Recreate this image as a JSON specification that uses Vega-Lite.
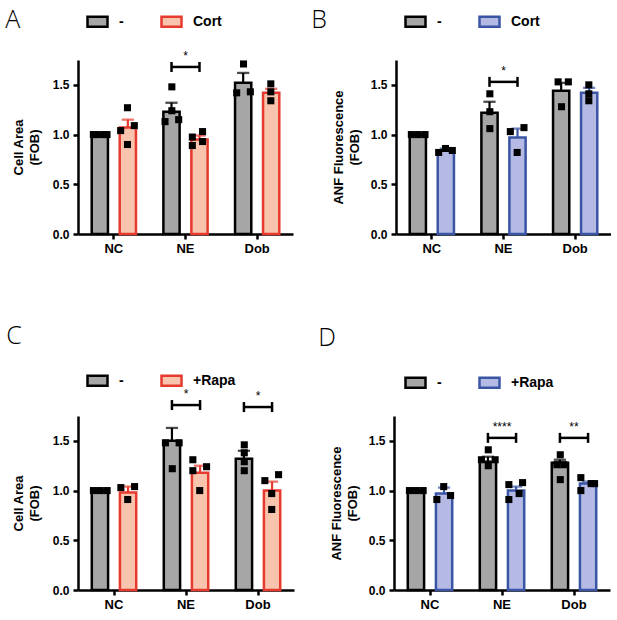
{
  "$schema": "https://vega.github.io/schema/vega-lite/v6.json",
  "padding": {"left": 5, "top": 8, "right": 0, "bottom": 0},
  "background": "white",
  "datasets": {
    "bars": [
      {"p": "A", "cat": "NC", "grp": "-", "mean": 1.0, "hi": 1.0},
      {"p": "A", "cat": "NC", "grp": "Cort", "mean": 1.07, "hi": 1.15},
      {"p": "A", "cat": "NE", "grp": "-", "mean": 1.23, "hi": 1.32},
      {"p": "A", "cat": "NE", "grp": "Cort", "mean": 0.95, "hi": 0.99},
      {"p": "A", "cat": "Dob", "grp": "-", "mean": 1.52, "hi": 1.62},
      {"p": "A", "cat": "Dob", "grp": "Cort", "mean": 1.42, "hi": 1.46},
      {"p": "B", "cat": "NC", "grp": "-", "mean": 1.0, "hi": 1.0},
      {"p": "B", "cat": "NC", "grp": "Cort", "mean": 0.84, "hi": 0.86},
      {"p": "B", "cat": "NE", "grp": "-", "mean": 1.22, "hi": 1.33},
      {"p": "B", "cat": "NE", "grp": "Cort", "mean": 0.97, "hi": 1.06},
      {"p": "B", "cat": "Dob", "grp": "-", "mean": 1.44, "hi": 1.52},
      {"p": "B", "cat": "Dob", "grp": "Cort", "mean": 1.42, "hi": 1.47},
      {"p": "C", "cat": "NC", "grp": "-", "mean": 1.0, "hi": 1.0},
      {"p": "C", "cat": "NC", "grp": "+Rapa", "mean": 0.98, "hi": 1.04},
      {"p": "C", "cat": "NE", "grp": "-", "mean": 1.5, "hi": 1.63},
      {"p": "C", "cat": "NE", "grp": "+Rapa", "mean": 1.18, "hi": 1.25},
      {"p": "C", "cat": "Dob", "grp": "-", "mean": 1.32, "hi": 1.4},
      {"p": "C", "cat": "Dob", "grp": "+Rapa", "mean": 1.0, "hi": 1.09},
      {"p": "D", "cat": "NC", "grp": "-", "mean": 1.0, "hi": 1.0},
      {"p": "D", "cat": "NC", "grp": "+Rapa", "mean": 0.97, "hi": 1.03},
      {"p": "D", "cat": "NE", "grp": "-", "mean": 1.29, "hi": 1.34},
      {"p": "D", "cat": "NE", "grp": "+Rapa", "mean": 1.0, "hi": 1.04},
      {"p": "D", "cat": "Dob", "grp": "-", "mean": 1.28, "hi": 1.31},
      {"p": "D", "cat": "Dob", "grp": "+Rapa", "mean": 1.07, "hi": 1.09}
    ],
    "pts": [
      {"p": "A", "cat": "NC", "s": "a1", "v": 1.0},
      {"p": "A", "cat": "NC", "s": "a2", "v": 1.0},
      {"p": "A", "cat": "NC", "s": "a4", "v": 1.0},
      {"p": "A", "cat": "NC", "s": "a5", "v": 1.0},
      {"p": "A", "cat": "NC", "s": "b3", "v": 1.27},
      {"p": "A", "cat": "NC", "s": "b1", "v": 1.04},
      {"p": "A", "cat": "NC", "s": "b5", "v": 1.09},
      {"p": "A", "cat": "NC", "s": "b3", "v": 0.9},
      {"p": "A", "cat": "NE", "s": "a3", "v": 1.48},
      {"p": "A", "cat": "NE", "s": "a3", "v": 1.24},
      {"p": "A", "cat": "NE", "s": "a1", "v": 1.13},
      {"p": "A", "cat": "NE", "s": "a5", "v": 1.15},
      {"p": "A", "cat": "NE", "s": "b1", "v": 0.975},
      {"p": "A", "cat": "NE", "s": "b1", "v": 0.89},
      {"p": "A", "cat": "NE", "s": "b4", "v": 1.03},
      {"p": "A", "cat": "NE", "s": "b4", "v": 0.93},
      {"p": "A", "cat": "Dob", "s": "a3", "v": 1.71},
      {"p": "A", "cat": "Dob", "s": "a1", "v": 1.42},
      {"p": "A", "cat": "Dob", "s": "a5", "v": 1.43},
      {"p": "A", "cat": "Dob", "s": "b3", "v": 1.51},
      {"p": "A", "cat": "Dob", "s": "b3", "v": 1.43},
      {"p": "A", "cat": "Dob", "s": "b3", "v": 1.34},
      {"p": "B", "cat": "NC", "s": "a1", "v": 1.0},
      {"p": "B", "cat": "NC", "s": "a3", "v": 1.0},
      {"p": "B", "cat": "NC", "s": "a5", "v": 1.0},
      {"p": "B", "cat": "NC", "s": "b1", "v": 0.82},
      {"p": "B", "cat": "NC", "s": "b3", "v": 0.86},
      {"p": "B", "cat": "NC", "s": "b5", "v": 0.84},
      {"p": "B", "cat": "NE", "s": "a3", "v": 1.41},
      {"p": "B", "cat": "NE", "s": "a3", "v": 1.23},
      {"p": "B", "cat": "NE", "s": "a3", "v": 1.06},
      {"p": "B", "cat": "NE", "s": "b1", "v": 1.03},
      {"p": "B", "cat": "NE", "s": "b5", "v": 1.07},
      {"p": "B", "cat": "NE", "s": "b3", "v": 0.82},
      {"p": "B", "cat": "Dob", "s": "a2", "v": 1.53},
      {"p": "B", "cat": "Dob", "s": "a5", "v": 1.53},
      {"p": "B", "cat": "Dob", "s": "a3", "v": 1.28},
      {"p": "B", "cat": "Dob", "s": "b3", "v": 1.5},
      {"p": "B", "cat": "Dob", "s": "b3", "v": 1.41},
      {"p": "B", "cat": "Dob", "s": "b3", "v": 1.34},
      {"p": "C", "cat": "NC", "s": "a1", "v": 1.0},
      {"p": "C", "cat": "NC", "s": "a3", "v": 1.0},
      {"p": "C", "cat": "NC", "s": "a5", "v": 1.0},
      {"p": "C", "cat": "NC", "s": "b1", "v": 1.03},
      {"p": "C", "cat": "NC", "s": "b3", "v": 0.91},
      {"p": "C", "cat": "NC", "s": "b5", "v": 1.04},
      {"p": "C", "cat": "NE", "s": "a1", "v": 1.48},
      {"p": "C", "cat": "NE", "s": "a5", "v": 1.48},
      {"p": "C", "cat": "NE", "s": "a3", "v": 1.22},
      {"p": "C", "cat": "NE", "s": "b1", "v": 1.31},
      {"p": "C", "cat": "NE", "s": "b1", "v": 1.2},
      {"p": "C", "cat": "NE", "s": "b5", "v": 1.24},
      {"p": "C", "cat": "NE", "s": "b3", "v": 1.0},
      {"p": "C", "cat": "Dob", "s": "a3", "v": 1.46},
      {"p": "C", "cat": "Dob", "s": "a3", "v": 1.38},
      {"p": "C", "cat": "Dob", "s": "a3", "v": 1.29},
      {"p": "C", "cat": "Dob", "s": "a3", "v": 1.2},
      {"p": "C", "cat": "Dob", "s": "b1", "v": 1.1},
      {"p": "C", "cat": "Dob", "s": "b5", "v": 1.16},
      {"p": "C", "cat": "Dob", "s": "b3", "v": 0.97},
      {"p": "C", "cat": "Dob", "s": "b3", "v": 0.81},
      {"p": "D", "cat": "NC", "s": "a1", "v": 1.0},
      {"p": "D", "cat": "NC", "s": "a3", "v": 1.0},
      {"p": "D", "cat": "NC", "s": "a5", "v": 1.0},
      {"p": "D", "cat": "NC", "s": "b1", "v": 0.91},
      {"p": "D", "cat": "NC", "s": "b3", "v": 1.04},
      {"p": "D", "cat": "NC", "s": "b5", "v": 0.95},
      {"p": "D", "cat": "NE", "s": "a3", "v": 1.41},
      {"p": "D", "cat": "NE", "s": "a1", "v": 1.31},
      {"p": "D", "cat": "NE", "s": "a5", "v": 1.31},
      {"p": "D", "cat": "NE", "s": "a3", "v": 1.25},
      {"p": "D", "cat": "NE", "s": "b1", "v": 1.06},
      {"p": "D", "cat": "NE", "s": "b5", "v": 1.08},
      {"p": "D", "cat": "NE", "s": "b1", "v": 0.91},
      {"p": "D", "cat": "NE", "s": "b4", "v": 0.97},
      {"p": "D", "cat": "Dob", "s": "a3", "v": 1.36},
      {"p": "D", "cat": "Dob", "s": "a2", "v": 1.26},
      {"p": "D", "cat": "Dob", "s": "a4", "v": 1.26},
      {"p": "D", "cat": "Dob", "s": "a3", "v": 1.11},
      {"p": "D", "cat": "Dob", "s": "b1", "v": 1.13},
      {"p": "D", "cat": "Dob", "s": "b1", "v": 1.0},
      {"p": "D", "cat": "Dob", "s": "b4", "v": 1.07},
      {"p": "D", "cat": "Dob", "s": "b5", "v": 1.07}
    ],
    "sig": [
      {"p": "A", "cat": "NE", "grp": "-", "y": 1.68, "lab": "*"},
      {"p": "A", "cat": "NE", "grp": "Cort", "y": 1.68, "lab": "*"},
      {"p": "B", "cat": "NE", "grp": "-", "y": 1.53, "lab": "*"},
      {"p": "B", "cat": "NE", "grp": "Cort", "y": 1.53, "lab": "*"},
      {"p": "C", "cat": "NE", "grp": "-", "y": 1.86, "lab": "*"},
      {"p": "C", "cat": "NE", "grp": "+Rapa", "y": 1.86, "lab": "*"},
      {"p": "C", "cat": "Dob", "grp": "-", "y": 1.84, "lab": "*"},
      {"p": "C", "cat": "Dob", "grp": "+Rapa", "y": 1.84, "lab": "*"},
      {"p": "D", "cat": "NE", "grp": "-", "y": 1.53, "lab": "****"},
      {"p": "D", "cat": "NE", "grp": "+Rapa", "y": 1.53, "lab": "****"},
      {"p": "D", "cat": "Dob", "grp": "-", "y": 1.53, "lab": "**"},
      {"p": "D", "cat": "Dob", "grp": "+Rapa", "y": 1.53, "lab": "**"}
    ]
  },
  "resolve": {
    "scale": {"fill": "independent", "stroke": "independent", "xOffset": "independent"},
    "legend": {"fill": "independent", "stroke": "independent"}
  },
  "spacing": 69,
  "vconcat": [
    {
      "spacing": 18,
      "resolve": {
        "scale": {"fill": "independent", "stroke": "independent", "xOffset": "independent"},
        "legend": {"fill": "independent", "stroke": "independent"}
      },
      "hconcat": [
        {
          "title": {"text": "A", "dx": -7, "dy": 27},
          "width": 215,
          "height": 174,
          "resolve": {"scale": {"xOffset": "independent"}},
          "encoding": {
            "x": {"field": "cat", "type": "nominal", "sort": ["NC", "NE", "Dob"], "scale": {"paddingInner": 0, "paddingOuter": 0}, "axis": {"title": null, "labelAngle": 0, "labelPadding": 3, "labelFontSize": 13}}
          },
          "layer": [
            {
              "data": {"name": "bars"},
              "transform": [{"filter": "datum.p === 'A'"}],
              "mark": {"type": "bar", "strokeWidth": 2.5},
              "encoding": {
                "xOffset": {"field": "grp", "type": "nominal", "sort": ["-", "Cort"], "scale": {"domain": ["-", "Cort"], "paddingInner": 0.42, "paddingOuter": 0.49}},
                "y": {"field": "mean", "type": "quantitative", "scale": {"domain": [0, 1.75], "nice": false}, "axis": {"values": [0, 0.5, 1, 1.5], "format": ".1f", "title": ["Cell Area", "(FOB)"], "titlePadding": 11}},
                "fill": {"field": "grp", "type": "nominal", "scale": {"domain": ["-", "Cort"], "range": ["#a6a6a6", "#f9c4ae"]}, "legend": {"title": null, "orient": "none", "legendX": 8, "legendY": -50}},
                "stroke": {"field": "grp", "type": "nominal", "scale": {"domain": ["-", "Cort"], "range": ["#000000", "#e63a2e"]}, "legend": {"title": null, "orient": "none", "legendX": 8, "legendY": -50}}
              }
            },
            {
              "data": {"name": "bars"},
              "transform": [{"filter": "datum.p === 'A'"}],
              "mark": {"type": "rule", "strokeWidth": 2.2},
              "encoding": {
                "xOffset": {"field": "grp", "type": "nominal", "sort": ["-", "Cort"], "scale": {"domain": ["-", "Cort"], "paddingInner": 0.42, "paddingOuter": 0.49}},
                "y": {"field": "mean", "type": "quantitative"},
                "y2": {"field": "hi"},
                "stroke": {"field": "grp", "type": "nominal"}
              }
            },
            {
              "data": {"name": "bars"},
              "transform": [{"filter": "datum.p === 'A'"}],
              "mark": {"type": "tick", "orient": "horizontal", "size": 10, "thickness": 0.1, "filled": false, "strokeWidth": 2.2},
              "encoding": {
                "xOffset": {"field": "grp", "type": "nominal", "sort": ["-", "Cort"], "scale": {"domain": ["-", "Cort"], "paddingInner": 0.42, "paddingOuter": 0.49}},
                "y": {"field": "hi", "type": "quantitative"},
                "stroke": {"field": "grp", "type": "nominal"}
              }
            },
            {
              "data": {"name": "pts"},
              "transform": [{"filter": "datum.p === 'A'"}],
              "mark": {"type": "point", "shape": "square", "filled": true, "size": 50, "color": "black", "opacity": 1},
              "encoding": {
                "xOffset": {"field": "s", "type": "nominal", "scale": {"type": "band", "domain": ["l1", "l2", "l3", "l4", "a1", "a2", "a3", "a4", "a5", "g1", "g2", "g3", "b1", "b2", "b3", "b4", "b5", "r1", "r2", "r3", "r4"], "paddingInner": 0, "paddingOuter": 0}},
                "y": {"field": "v", "type": "quantitative"}
              }
            },
            {
              "data": {"name": "sig"},
              "transform": [{"filter": "datum.p === 'A' && datum.grp === '-'"}],
              "mark": {"type": "tick", "orient": "horizontal", "size": 28, "thickness": 2.5, "color": "black", "opacity": 1},
              "encoding": {"y": {"field": "y", "type": "quantitative"}}
            },
            {
              "data": {"name": "sig"},
              "transform": [{"filter": "datum.p === 'A'"}],
              "mark": {"type": "tick", "orient": "vertical", "size": 10, "thickness": 2.5, "color": "black", "opacity": 1},
              "encoding": {
                "xOffset": {"field": "grp", "type": "nominal", "sort": ["-", "Cort"], "scale": {"domain": ["-", "Cort"], "paddingInner": 0.42, "paddingOuter": 0.49}},
                "y": {"field": "y", "type": "quantitative"}
              }
            },
            {
              "data": {"name": "sig"},
              "transform": [{"filter": "datum.p === 'A' && datum.grp === '-'"}],
              "mark": {"type": "text", "baseline": "bottom", "dy": -4, "fontSize": 12, "color": "black"},
              "encoding": {"y": {"field": "y", "type": "quantitative"}, "text": {"field": "lab"}}
            }
          ]
        },
        {
          "title": {"text": "B", "dx": -21, "dy": 27},
          "width": 215,
          "height": 174,
          "resolve": {"scale": {"xOffset": "independent"}},
          "encoding": {
            "x": {"field": "cat", "type": "nominal", "sort": ["NC", "NE", "Dob"], "scale": {"paddingInner": 0, "paddingOuter": 0}, "axis": {"title": null, "labelAngle": 0, "labelPadding": 3, "labelFontSize": 13}}
          },
          "layer": [
            {
              "data": {"name": "bars"},
              "transform": [{"filter": "datum.p === 'B'"}],
              "mark": {"type": "bar", "strokeWidth": 2.5},
              "encoding": {
                "xOffset": {"field": "grp", "type": "nominal", "sort": ["-", "Cort"], "scale": {"domain": ["-", "Cort"], "paddingInner": 0.42, "paddingOuter": 0.49}},
                "y": {"field": "mean", "type": "quantitative", "scale": {"domain": [0, 1.75], "nice": false}, "axis": {"values": [0, 0.5, 1, 1.5], "format": ".1f", "title": ["ANF Fluorescence", "(FOB)"]}},
                "fill": {"field": "grp", "type": "nominal", "scale": {"domain": ["-", "Cort"], "range": ["#a6a6a6", "#b5bae4"]}, "legend": {"title": null, "orient": "none", "legendX": 8, "legendY": -50}},
                "stroke": {"field": "grp", "type": "nominal", "scale": {"domain": ["-", "Cort"], "range": ["#000000", "#3b55a5"]}, "legend": {"title": null, "orient": "none", "legendX": 8, "legendY": -50}}
              }
            },
            {
              "data": {"name": "bars"},
              "transform": [{"filter": "datum.p === 'B'"}],
              "mark": {"type": "rule", "strokeWidth": 2.2},
              "encoding": {
                "xOffset": {"field": "grp", "type": "nominal", "sort": ["-", "Cort"], "scale": {"domain": ["-", "Cort"], "paddingInner": 0.42, "paddingOuter": 0.49}},
                "y": {"field": "mean", "type": "quantitative"},
                "y2": {"field": "hi"},
                "stroke": {"field": "grp", "type": "nominal"}
              }
            },
            {
              "data": {"name": "bars"},
              "transform": [{"filter": "datum.p === 'B'"}],
              "mark": {"type": "tick", "orient": "horizontal", "size": 10, "thickness": 0.1, "filled": false, "strokeWidth": 2.2},
              "encoding": {
                "xOffset": {"field": "grp", "type": "nominal", "sort": ["-", "Cort"], "scale": {"domain": ["-", "Cort"], "paddingInner": 0.42, "paddingOuter": 0.49}},
                "y": {"field": "hi", "type": "quantitative"},
                "stroke": {"field": "grp", "type": "nominal"}
              }
            },
            {
              "data": {"name": "pts"},
              "transform": [{"filter": "datum.p === 'B'"}],
              "mark": {"type": "point", "shape": "square", "filled": true, "size": 50, "color": "black", "opacity": 1},
              "encoding": {
                "xOffset": {"field": "s", "type": "nominal", "scale": {"type": "band", "domain": ["l1", "l2", "l3", "l4", "a1", "a2", "a3", "a4", "a5", "g1", "g2", "g3", "b1", "b2", "b3", "b4", "b5", "r1", "r2", "r3", "r4"], "paddingInner": 0, "paddingOuter": 0}},
                "y": {"field": "v", "type": "quantitative"}
              }
            },
            {
              "data": {"name": "sig"},
              "transform": [{"filter": "datum.p === 'B' && datum.grp === '-'"}],
              "mark": {"type": "tick", "orient": "horizontal", "size": 28, "thickness": 2.5, "color": "black", "opacity": 1},
              "encoding": {"y": {"field": "y", "type": "quantitative"}}
            },
            {
              "data": {"name": "sig"},
              "transform": [{"filter": "datum.p === 'B'"}],
              "mark": {"type": "tick", "orient": "vertical", "size": 10, "thickness": 2.5, "color": "black", "opacity": 1},
              "encoding": {
                "xOffset": {"field": "grp", "type": "nominal", "sort": ["-", "Cort"], "scale": {"domain": ["-", "Cort"], "paddingInner": 0.42, "paddingOuter": 0.49}},
                "y": {"field": "y", "type": "quantitative"}
              }
            },
            {
              "data": {"name": "sig"},
              "transform": [{"filter": "datum.p === 'B' && datum.grp === '-'"}],
              "mark": {"type": "text", "baseline": "bottom", "dy": -4, "fontSize": 12, "color": "black"},
              "encoding": {"y": {"field": "y", "type": "quantitative"}, "text": {"field": "lab"}}
            }
          ]
        }
      ]
    },
    {
      "spacing": 24,
      "resolve": {
        "scale": {"fill": "independent", "stroke": "independent", "xOffset": "independent"},
        "legend": {"fill": "independent", "stroke": "independent"}
      },
      "hconcat": [
        {
          "title": {"text": "C", "dx": -6, "offset": 20},
          "width": 216,
          "height": 174,
          "resolve": {"scale": {"xOffset": "independent"}},
          "encoding": {
            "x": {"field": "cat", "type": "nominal", "sort": ["NC", "NE", "Dob"], "scale": {"paddingInner": 0, "paddingOuter": 0}, "axis": {"title": null, "labelAngle": 0, "labelPadding": 3, "labelFontSize": 13}}
          },
          "layer": [
            {
              "data": {"name": "bars"},
              "transform": [{"filter": "datum.p === 'C'"}],
              "mark": {"type": "bar", "strokeWidth": 2.5},
              "encoding": {
                "xOffset": {"field": "grp", "type": "nominal", "sort": ["-", "+Rapa"], "scale": {"domain": ["-", "+Rapa"], "paddingInner": 0.42, "paddingOuter": 0.49}},
                "y": {"field": "mean", "type": "quantitative", "scale": {"domain": [0, 1.75], "nice": false}, "axis": {"values": [0, 0.5, 1, 1.5], "format": ".1f", "title": ["Cell Area", "(FOB)"], "titlePadding": 11}},
                "fill": {"field": "grp", "type": "nominal", "scale": {"domain": ["-", "+Rapa"], "range": ["#a6a6a6", "#f9c4ae"]}, "legend": {"title": null, "orient": "none", "legendX": 8, "legendY": -47}},
                "stroke": {"field": "grp", "type": "nominal", "scale": {"domain": ["-", "+Rapa"], "range": ["#000000", "#e63a2e"]}, "legend": {"title": null, "orient": "none", "legendX": 8, "legendY": -47}}
              }
            },
            {
              "data": {"name": "bars"},
              "transform": [{"filter": "datum.p === 'C'"}],
              "mark": {"type": "rule", "strokeWidth": 2.2},
              "encoding": {
                "xOffset": {"field": "grp", "type": "nominal", "sort": ["-", "+Rapa"], "scale": {"domain": ["-", "+Rapa"], "paddingInner": 0.42, "paddingOuter": 0.49}},
                "y": {"field": "mean", "type": "quantitative"},
                "y2": {"field": "hi"},
                "stroke": {"field": "grp", "type": "nominal"}
              }
            },
            {
              "data": {"name": "bars"},
              "transform": [{"filter": "datum.p === 'C'"}],
              "mark": {"type": "tick", "orient": "horizontal", "size": 10, "thickness": 0.1, "filled": false, "strokeWidth": 2.2},
              "encoding": {
                "xOffset": {"field": "grp", "type": "nominal", "sort": ["-", "+Rapa"], "scale": {"domain": ["-", "+Rapa"], "paddingInner": 0.42, "paddingOuter": 0.49}},
                "y": {"field": "hi", "type": "quantitative"},
                "stroke": {"field": "grp", "type": "nominal"}
              }
            },
            {
              "data": {"name": "pts"},
              "transform": [{"filter": "datum.p === 'C'"}],
              "mark": {"type": "point", "shape": "square", "filled": true, "size": 50, "color": "black", "opacity": 1},
              "encoding": {
                "xOffset": {"field": "s", "type": "nominal", "scale": {"type": "band", "domain": ["l1", "l2", "l3", "l4", "a1", "a2", "a3", "a4", "a5", "g1", "g2", "g3", "b1", "b2", "b3", "b4", "b5", "r1", "r2", "r3", "r4"], "paddingInner": 0, "paddingOuter": 0}},
                "y": {"field": "v", "type": "quantitative"}
              }
            },
            {
              "data": {"name": "sig"},
              "transform": [{"filter": "datum.p === 'C' && datum.grp === '-'"}],
              "mark": {"type": "tick", "orient": "horizontal", "size": 28, "thickness": 2.5, "color": "black", "opacity": 1},
              "encoding": {"y": {"field": "y", "type": "quantitative"}}
            },
            {
              "data": {"name": "sig"},
              "transform": [{"filter": "datum.p === 'C'"}],
              "mark": {"type": "tick", "orient": "vertical", "size": 10, "thickness": 2.5, "color": "black", "opacity": 1},
              "encoding": {
                "xOffset": {"field": "grp", "type": "nominal", "sort": ["-", "+Rapa"], "scale": {"domain": ["-", "+Rapa"], "paddingInner": 0.42, "paddingOuter": 0.49}},
                "y": {"field": "y", "type": "quantitative"}
              }
            },
            {
              "data": {"name": "sig"},
              "transform": [{"filter": "datum.p === 'C' && datum.grp === '-'"}],
              "mark": {"type": "text", "baseline": "bottom", "dy": -4, "fontSize": 12, "color": "black"},
              "encoding": {"y": {"field": "y", "type": "quantitative"}, "text": {"field": "lab"}}
            }
          ]
        },
        {
          "title": {"text": "D", "dx": -12, "offset": 20},
          "width": 216,
          "height": 174,
          "resolve": {"scale": {"xOffset": "independent"}},
          "encoding": {
            "x": {"field": "cat", "type": "nominal", "sort": ["NC", "NE", "Dob"], "scale": {"paddingInner": 0, "paddingOuter": 0}, "axis": {"title": null, "labelAngle": 0, "labelPadding": 3, "labelFontSize": 13}}
          },
          "layer": [
            {
              "data": {"name": "bars"},
              "transform": [{"filter": "datum.p === 'D'"}],
              "mark": {"type": "bar", "strokeWidth": 2.5},
              "encoding": {
                "xOffset": {"field": "grp", "type": "nominal", "sort": ["-", "+Rapa"], "scale": {"domain": ["-", "+Rapa"], "paddingInner": 0.42, "paddingOuter": 0.49}},
                "y": {"field": "mean", "type": "quantitative", "scale": {"domain": [0, 1.75], "nice": false}, "axis": {"values": [0, 0.5, 1, 1.5], "format": ".1f", "title": ["ANF Fluorescence", "(FOB)"]}},
                "fill": {"field": "grp", "type": "nominal", "scale": {"domain": ["-", "+Rapa"], "range": ["#a6a6a6", "#b5bae4"]}, "legend": {"title": null, "orient": "none", "legendX": 10, "legendY": -45}},
                "stroke": {"field": "grp", "type": "nominal", "scale": {"domain": ["-", "+Rapa"], "range": ["#000000", "#3b55a5"]}, "legend": {"title": null, "orient": "none", "legendX": 10, "legendY": -45}}
              }
            },
            {
              "data": {"name": "bars"},
              "transform": [{"filter": "datum.p === 'D'"}],
              "mark": {"type": "rule", "strokeWidth": 2.2},
              "encoding": {
                "xOffset": {"field": "grp", "type": "nominal", "sort": ["-", "+Rapa"], "scale": {"domain": ["-", "+Rapa"], "paddingInner": 0.42, "paddingOuter": 0.49}},
                "y": {"field": "mean", "type": "quantitative"},
                "y2": {"field": "hi"},
                "stroke": {"field": "grp", "type": "nominal"}
              }
            },
            {
              "data": {"name": "bars"},
              "transform": [{"filter": "datum.p === 'D'"}],
              "mark": {"type": "tick", "orient": "horizontal", "size": 10, "thickness": 0.1, "filled": false, "strokeWidth": 2.2},
              "encoding": {
                "xOffset": {"field": "grp", "type": "nominal", "sort": ["-", "+Rapa"], "scale": {"domain": ["-", "+Rapa"], "paddingInner": 0.42, "paddingOuter": 0.49}},
                "y": {"field": "hi", "type": "quantitative"},
                "stroke": {"field": "grp", "type": "nominal"}
              }
            },
            {
              "data": {"name": "pts"},
              "transform": [{"filter": "datum.p === 'D'"}],
              "mark": {"type": "point", "shape": "square", "filled": true, "size": 50, "color": "black", "opacity": 1},
              "encoding": {
                "xOffset": {"field": "s", "type": "nominal", "scale": {"type": "band", "domain": ["l1", "l2", "l3", "l4", "a1", "a2", "a3", "a4", "a5", "g1", "g2", "g3", "b1", "b2", "b3", "b4", "b5", "r1", "r2", "r3", "r4"], "paddingInner": 0, "paddingOuter": 0}},
                "y": {"field": "v", "type": "quantitative"}
              }
            },
            {
              "data": {"name": "sig"},
              "transform": [{"filter": "datum.p === 'D' && datum.grp === '-'"}],
              "mark": {"type": "tick", "orient": "horizontal", "size": 28, "thickness": 2.5, "color": "black", "opacity": 1},
              "encoding": {"y": {"field": "y", "type": "quantitative"}}
            },
            {
              "data": {"name": "sig"},
              "transform": [{"filter": "datum.p === 'D'"}],
              "mark": {"type": "tick", "orient": "vertical", "size": 10, "thickness": 2.5, "color": "black", "opacity": 1},
              "encoding": {
                "xOffset": {"field": "grp", "type": "nominal", "sort": ["-", "+Rapa"], "scale": {"domain": ["-", "+Rapa"], "paddingInner": 0.42, "paddingOuter": 0.49}},
                "y": {"field": "y", "type": "quantitative"}
              }
            },
            {
              "data": {"name": "sig"},
              "transform": [{"filter": "datum.p === 'D' && datum.grp === '-'"}],
              "mark": {"type": "text", "baseline": "bottom", "dy": -4, "fontSize": 12, "color": "black"},
              "encoding": {"y": {"field": "y", "type": "quantitative"}, "text": {"field": "lab"}}
            }
          ]
        }
      ]
    }
  ],
  "config": {
    "view": {"stroke": null},
    "font": "Liberation Sans",
    "axis": {
      "grid": false,
      "domainColor": "black",
      "domainWidth": 2.5,
      "tickColor": "black",
      "tickWidth": 2.5,
      "tickSize": 5,
      "labelFont": "Liberation Sans",
      "labelFontSize": 12,
      "labelFontWeight": "bold",
      "labelColor": "black",
      "labelPadding": 4,
      "titleFont": "Liberation Sans",
      "titleFontSize": 13,
      "titleFontWeight": "bold",
      "titleColor": "black",
      "titleLineHeight": 16,
      "titlePadding": 9
    },
    "legend": {
      "direction": "horizontal",
      "symbolType": "M-1,-0.5H1V0.5H-1Z",
      "symbolSize": 400,
      "symbolStrokeWidth": 2.5,
      "labelFont": "Liberation Sans",
      "labelFontSize": 14,
      "labelFontWeight": "bold",
      "labelColor": "black",
      "labelOffset": 10,
      "columnPadding": 32,
      "padding": 0
    },
    "title": {
      "anchor": "start",
      "frame": "bounds",
      "font": "Open Sans",
      "fontWeight": 300,
      "fontSize": 25,
      "color": "black",
      "offset": 4
    }
  }
}
